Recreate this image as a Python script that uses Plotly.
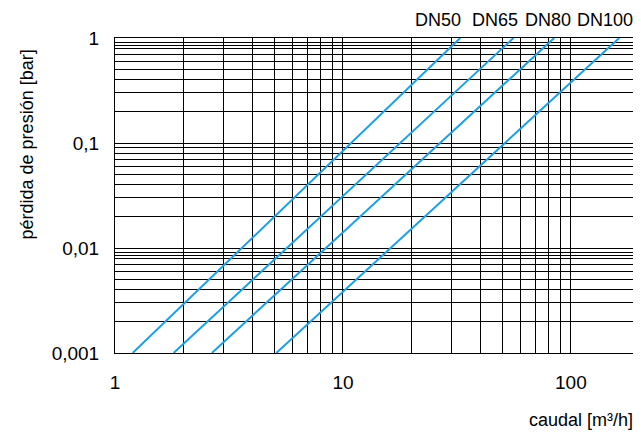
import plotly.graph_objects as go

# ---- data ----
series_names = ["DN50", "DN65", "DN80", "DN100"]
flow_dn50 = [1.195, 32.7]
flow_dn65 = [1.807, 56.0]
flow_dn80 = [2.66, 84.5]
flow_dn100 = [5.10, 163.0]
dp_dn50 = [0.001, 1.0]
dp_dn65 = [0.001, 1.0]
dp_dn80 = [0.001, 1.0]
dp_dn100 = [0.001, 1.0]

x_tick_vals = [1, 2, 3, 4, 5, 6, 7, 8, 9, 10, 20, 30, 40, 50, 60, 70, 80, 90, 100]
x_tick_text = ["1", "", "", "", "", "", "", "", "", "10", "", "", "", "", "", "", "", "", "100"]
y_tick_vals = [0.001, 0.002, 0.003, 0.004, 0.005, 0.006, 0.007, 0.008, 0.0085, 0.009,
               0.01, 0.02, 0.03, 0.04, 0.05, 0.06, 0.07, 0.08, 0.09,
               0.1, 0.2, 0.3, 0.4, 0.5, 0.6, 0.7, 0.8, 0.85, 0.9, 1.0]
y_tick_text = ["0,001"] + [""] * 9 + ["0,01"] + [""] * 8 + ["0,1"] + [""] * 9 + ["1"]

x_title = "caudal [m³/h]"
y_title = "pérdida de presión [bar]"

FONT = "Liberation Sans, Arial, sans-serif"
BLUE = "#1BA0E2"

fig = go.Figure()
for name, xs, ys in zip(series_names,
                        [flow_dn50, flow_dn65, flow_dn80, flow_dn100],
                        [dp_dn50, dp_dn65, dp_dn80, dp_dn100]):
    fig.add_trace(go.Scatter(x=xs, y=ys, mode="lines", name=name,
                             line=dict(color=BLUE, width=2), showlegend=False))

label_x = [0.619, 0.728, 0.829, 0.938]
for name, lx in zip(series_names, label_x):
    fig.add_annotation(text=name, xref="paper", yref="paper", x=lx, y=1.057,
                       xanchor="center", yanchor="middle", showarrow=False,
                       font=dict(size=18, color="black", family=FONT))

fig.add_annotation(text=x_title, xref="paper", yref="paper", x=0.996, y=-0.213,
                   xanchor="right", yanchor="middle", showarrow=False,
                   font=dict(size=18, color="black", family=FONT))
fig.add_annotation(text=y_title, xref="paper", yref="paper", x=-0.168, y=0.663,
                   xanchor="center", yanchor="middle", showarrow=False, textangle=-90,
                   font=dict(size=18, color="black", family=FONT))

fig.update_xaxes(type="log", range=[0, 2.29], tickmode="array",
                 tickvals=x_tick_vals, ticktext=x_tick_text,
                 showgrid=True, gridcolor="black", gridwidth=1,
                 showline=True, linecolor="black", linewidth=1, mirror=True,
                 ticks="", ticklabelstandoff=12, zeroline=False,
                 tickfont=dict(size=19, color="black", family=FONT))
fig.update_yaxes(type="log", range=[-3, 0], tickmode="array",
                 tickvals=y_tick_vals, ticktext=y_tick_text,
                 showgrid=True, gridcolor="black", gridwidth=1,
                 showline=True, linecolor="black", linewidth=1, mirror=True,
                 ticks="", ticklabelstandoff=11, zeroline=False,
                 tickfont=dict(size=19, color="black", family=FONT))

# the page body adds an 8px offset at top/left, so the figure is sized to fit
fig.update_layout(width=633, height=426,
                  margin=dict(l=107, r=4, t=30, b=81),
                  plot_bgcolor="white", paper_bgcolor="white",
                  font=dict(family=FONT, color="black"))

fig.write_html("out.html")
